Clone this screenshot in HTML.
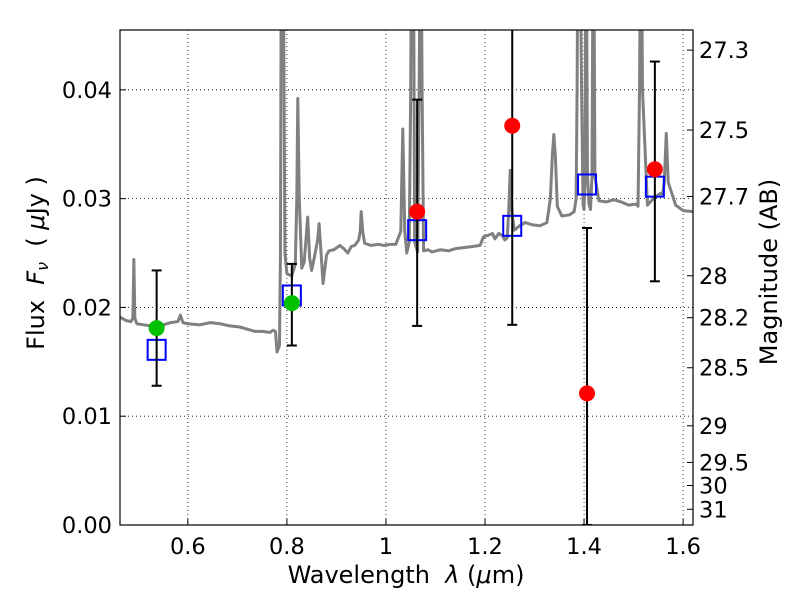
<!DOCTYPE html>
<html><head><meta charset="utf-8"><style>
body{margin:0;background:#fff}
svg{display:block;font-family:"DejaVu Sans","Liberation Sans",sans-serif}
text{white-space:pre}
</style></head><body>
<svg id="chart" width="800" height="600" viewBox="0 0 800 600"></svg>
<script>
const specLam=[0.463,0.475,0.485,0.489,0.491,0.493,0.497,0.51,0.525,0.539,0.55,0.565,0.58,0.585,0.59,0.6,0.624,0.645,0.665,0.685,0.705,0.72,0.735,0.75,0.766,0.772,0.777,0.78,0.785,0.787,0.789,0.792,0.796,0.8,0.81,0.817,0.82,0.822,0.825,0.83,0.835,0.842,0.846,0.85,0.855,0.862,0.865,0.869,0.873,0.88,0.885,0.895,0.907,0.915,0.923,0.93,0.937,0.945,0.948,0.95,0.953,0.957,0.97,0.985,0.995,1.01,1.02,1.03,1.034,1.038,1.042,1.047,1.05,1.052,1.055,1.058,1.064,1.067,1.07,1.073,1.076,1.085,1.093,1.11,1.127,1.14,1.157,1.175,1.19,1.197,1.205,1.215,1.22,1.228,1.235,1.24,1.245,1.248,1.251,1.254,1.259,1.27,1.281,1.295,1.311,1.325,1.332,1.336,1.339,1.342,1.346,1.355,1.37,1.38,1.384,1.386,1.388,1.391,1.395,1.398,1.4,1.402,1.404,1.407,1.41,1.413,1.416,1.419,1.422,1.43,1.445,1.46,1.475,1.49,1.505,1.509,1.512,1.515,1.518,1.528,1.54,1.555,1.559,1.562,1.566,1.57,1.585,1.6,1.62];
const specFlux=[0.0191,0.0188,0.0187,0.0190,0.0244,0.0190,0.0185,0.0184,0.0183,0.0182,0.0184,0.0186,0.0187,0.0193,0.0186,0.0185,0.0184,0.0186,0.0185,0.0183,0.0182,0.0180,0.0178,0.0178,0.0177,0.0179,0.0178,0.0159,0.0165,0.025,0.06,0.06,0.025,0.0231,0.0229,0.024,0.03,0.0392,0.03,0.0236,0.0242,0.0283,0.0245,0.0234,0.0245,0.0262,0.0277,0.025,0.0222,0.0248,0.0252,0.0253,0.0257,0.0254,0.025,0.0256,0.0257,0.0262,0.027,0.0288,0.027,0.0259,0.0257,0.0258,0.0257,0.0258,0.0258,0.027,0.0364,0.027,0.025,0.026,0.04,0.06,0.06,0.026,0.0251,0.04,0.06,0.04,0.0252,0.0253,0.0251,0.0253,0.0252,0.0254,0.0255,0.0256,0.0257,0.0265,0.0266,0.0268,0.0263,0.0268,0.0266,0.0262,0.0264,0.029,0.0326,0.029,0.0271,0.0275,0.0278,0.0276,0.0275,0.0278,0.030,0.034,0.0359,0.034,0.0293,0.0284,0.0285,0.0288,0.030,0.04,0.06,0.06,0.04,0.0295,0.029,0.032,0.06,0.032,0.0295,0.029,0.032,0.06,0.032,0.0298,0.0297,0.0299,0.0297,0.0294,0.0295,0.0293,0.04,0.06,0.04,0.0294,0.03,0.0305,0.0304,0.0315,0.036,0.0315,0.0294,0.0289,0.0288,0.0285];
const gLam=[0.537,0.810],gFlux=[0.0181,0.0204],gLo=[0.0128,0.0165],gHi=[0.0234,0.0240];
const rLam=[1.063,1.255,1.406,1.543],rFlux=[0.0288,0.0367,0.0121,0.0327],rLo=[0.0183,0.0184,0.0,0.0224],rHi=[0.0391,0.06,0.0273,0.0426];
const bLam=[0.537,0.810,1.063,1.255,1.406,1.543],bFlux=[0.0161,0.0211,0.0271,0.0275,0.0313,0.0311];
const xTicks=[0.6,0.8,1.0,1.2,1.4,1.6],xTickLabels=["0.6","0.8","1","1.2","1.4","1.6"];
const yTicks=[0,0.01,0.02,0.03,0.04],yTickLabels=["0.00","0.01","0.02","0.03","0.04"];
const magTicks=[27.3,27.5,27.7,28,28.2,28.5,29,29.5,30,31],magLabels=["27.3","27.5","27.7","28","28.2","28.5","29","29.5","30","31"];
const L=120,R=693,T=30,B=525,xMin=0.463,xMax=1.62,yMin=0,yMax=0.0455;
const X=v=>L+(v-xMin)/(xMax-xMin)*(R-L);
const Y=v=>B-(v-yMin)/(yMax-yMin)*(B-T);
const svg=document.getElementById('chart');const NS='http://www.w3.org/2000/svg';
function el(t,a,p){const e=document.createElementNS(NS,t);for(const k in a)e.setAttribute(k,a[k]);(p||svg).appendChild(e);return e;}
const defs=el('defs',{});const cp=el('clipPath',{id:'cp'},defs);el('rect',{x:L,y:T,width:R-L,height:B-T},cp);
xTicks.forEach((t,i)=>{const g=el('line',{x1:X(t),x2:X(t),y1:T,y2:B,stroke:'#000','stroke-dasharray':'1,3','stroke-width':0.8});

const tk=el('line',{x1:X(t),x2:X(t),y1:B,y2:B-6,stroke:'#000'});
const tx=el('text',{x:X(t),y:B+29,'text-anchor':'middle','font-size':22.5});tx.textContent=xTickLabels[i];
});
yTicks.forEach((t,i)=>{if(t>0){const g=el('line',{x1:L,x2:R,y1:Y(t),y2:Y(t),stroke:'#000','stroke-dasharray':'1,3','stroke-width':0.8});
}
const tk=el('line',{x1:L,x2:L+6,y1:Y(t),y2:Y(t),stroke:'#000'});
const tx=el('text',{x:L-8,y:Y(t)+8,'text-anchor':'end','font-size':22.5});tx.textContent=yTickLabels[i];
});
magTicks.forEach((m,i)=>{const f=Math.pow(10,(23.9-m)/2.5);const y=Y(f);
const tk=el('line',{x1:R-6,x2:R,y1:y,y2:y,stroke:'#000'});
const tx=el('text',{x:R+6,y:y+8,'font-size':22.5});tx.textContent=magLabels[i];
});
const sp=el('polyline',{points:specLam.map((l,i)=>X(l)+','+Y(specFlux[i])).join(' '),fill:'none',stroke:'#808080','stroke-width':3,'stroke-linejoin':'round','clip-path':'url(#cp)'});

function ebar(x,lo,hi){const g=el('g',{'clip-path':'url(#cp)'});
el('line',{x1:X(x),x2:X(x),y1:Y(lo),y2:Y(hi),stroke:'#000','stroke-width':2},g);
el('line',{x1:X(x)-5,x2:X(x)+5,y1:Y(lo),y2:Y(lo),stroke:'#000','stroke-width':2},g);
el('line',{x1:X(x)-5,x2:X(x)+5,y1:Y(hi),y2:Y(hi),stroke:'#000','stroke-width':2},g);return g;}
bLam.forEach((l,i)=>{const r=el('rect',{x:X(l)-9,y:Y(bFlux[i])-10,width:18,height:20,fill:'none',stroke:'#0000ff','stroke-width':2});
});
gLam.forEach((l,i)=>{const g=ebar(l,gLo[i],gHi[i]);
const c=el('circle',{cx:X(l),cy:Y(gFlux[i]),r:8,fill:'#00c000'});});
rLam.forEach((l,i)=>{const g=ebar(l,rLo[i],rHi[i]);
const c=el('circle',{cx:X(l),cy:Y(rFlux[i]),r:8,fill:'#ff0000'});});
const fr=el('rect',{x:L,y:T,width:R-L,height:B-T,fill:'none',stroke:'#000','stroke-width':1.2});

const xl=el('text',{x:406,y:583,'text-anchor':'middle','font-size':24});xl.innerHTML='Wavelength  <tspan font-style="italic">λ</tspan> (<tspan font-style="italic">μ</tspan>m)';

const yl=el('text',{x:0,y:0,'text-anchor':'middle','font-size':24,transform:'translate(44,263) rotate(-90)'});
yl.innerHTML='Flux  <tspan font-style="italic">F</tspan><tspan font-style="italic" font-size="16" dy="4">ν</tspan><tspan dy="-4">  ( </tspan><tspan font-style="italic">μ</tspan>Jy )';

const ml=el('text',{x:0,y:0,'text-anchor':'middle','font-size':24,transform:'translate(777,272) rotate(-90)'});ml.textContent='Magnitude (AB)';

</script>
</body></html>
